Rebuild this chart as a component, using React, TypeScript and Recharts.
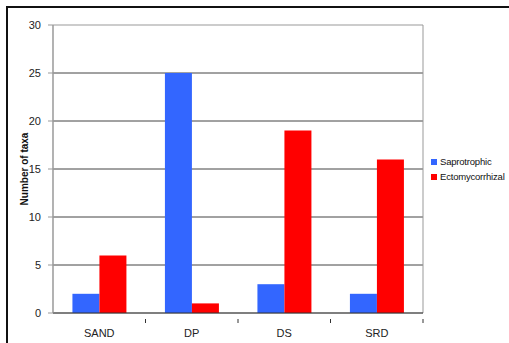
import { Bar, BarChart, CartesianGrid, ReferenceArea, XAxis, YAxis } from "recharts";

const sites = ["SAND", "DP", "DS", "SRD"];
const saprotrophic = [2, 25, 3, 2];
const ectomycorrhizal = [6, 1, 19, 16];
const yTicks = [0, 5, 10, 15, 20, 25, 30];

const data = sites.map((site, i) => ({
  site,
  saprotrophic: saprotrophic[i],
  ectomycorrhizal: ectomycorrhizal[i],
}));

const font = "Arial, 'Liberation Sans', sans-serif";
const BLUE = "#3366ff";
const RED = "#ff0000";

// category label centred, tick mark drawn on the right-hand band edge
function SiteTick(props: any) {
  const { x, y, payload } = props;
  const half = 46.25;
  return (
    <g>
      <line x1={x + half} y1={y - 2} x2={x + half} y2={y + 2} stroke="#333" />
      <text x={x} y={y + 16} textAnchor="middle" fontSize={11} fill="#222" fontFamily={font}>
        {payload.value}
      </text>
    </g>
  );
}

const legendItems = [
  { label: "Saprotrophic", color: BLUE },
  { label: "Ectomycorrhizal", color: RED },
];

function LegendBox() {
  return (
    <div
      style={{
        position: "absolute",
        left: 431,
        top: 154,
        fontFamily: font,
        fontSize: 9.5,
        letterSpacing: -0.2,
        color: "#111",
        lineHeight: "15px",
        whiteSpace: "nowrap",
      }}
    >
      {legendItems.map((it) => (
        <div key={it.label} style={{ display: "flex", alignItems: "center" }}>
          <span style={{ width: 6, height: 6, background: it.color, marginRight: 3, display: "inline-block" }} />
          {it.label}
        </div>
      ))}
    </div>
  );
}

export default function App() {
  return (
    <div style={{ position: "absolute", left: 0, top: 0, width: 509, height: 343, overflow: "hidden", background: "#fff" }}>
      <div
        style={{
          position: "absolute",
          left: 6,
          top: 6,
          width: 540,
          height: 360,
          border: "2px solid #111",
          boxSizing: "border-box",
        }}
      />
      <div style={{ position: "absolute", left: 0, top: 0 }}>
        <BarChart
          width={509}
          height={343}
          data={data}
          margin={{ top: 25, right: 86, bottom: 0, left: 0 }}
          barCategoryGap="21%"
          barGap={0}
        >
          <ReferenceArea y1={0} y2={30} stroke="#999" strokeWidth={1} fill="none" ifOverflow="visible" />
          <CartesianGrid vertical={false} horizontalValues={[5, 10, 15, 20, 25]} stroke="#444" />
          <XAxis
            dataKey="site"
            height={30}
            axisLine={{ stroke: "#333" }}
            tickLine={false}
            tick={<SiteTick />}
            interval={0}
          />
          <YAxis
            width={53}
            domain={[0, 30]}
            ticks={yTicks}
            interval={0}
            axisLine={{ stroke: "#999" }}
            tickLine={{ stroke: "#999" }}
            tickSize={5}
            tickMargin={7}
            tick={{ fontSize: 11, fill: "#222", fontFamily: font }}
            label={{
              value: "Number of taxa",
              angle: -90,
              position: "insideLeft",
              offset: 24,
              style: { fontSize: 10, fontWeight: "bold", fill: "#111", fontFamily: font, textAnchor: "middle" },
            }}
          />
          <Bar dataKey="saprotrophic" fill={BLUE} isAnimationActive={false} />
          <Bar dataKey="ectomycorrhizal" fill={RED} isAnimationActive={false} />
        </BarChart>
      </div>
      <LegendBox />
    </div>
  );
}
